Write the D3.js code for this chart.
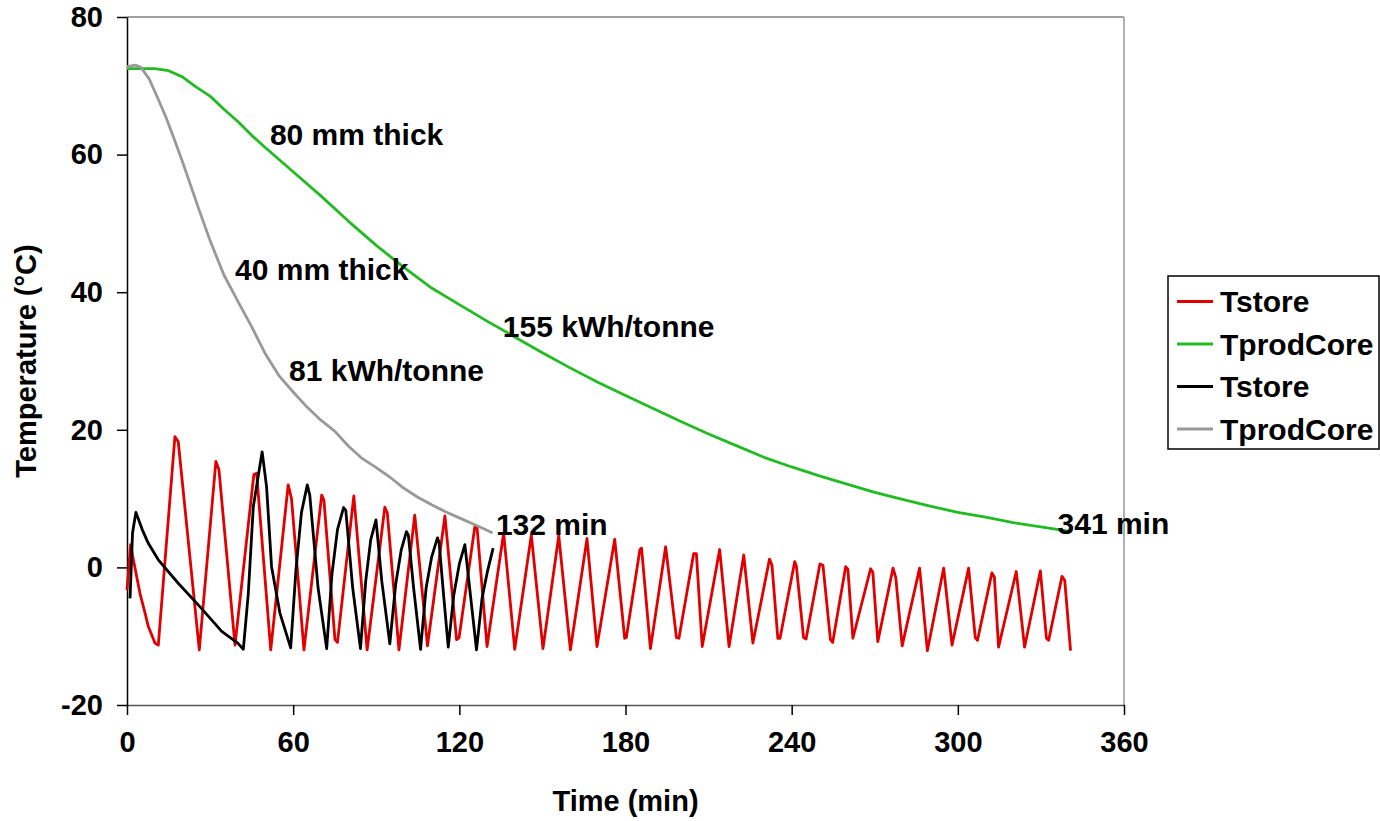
<!DOCTYPE html>
<html>
<head>
<meta charset="utf-8">
<script src="https://cdn.jsdelivr.net/npm/d3@7"></script>
<style>
  body { margin: 0; background: #fff; }
  svg text { font-family: "Liberation Sans", Arial, sans-serif; font-weight: bold; }
</style>
</head>
<body>
<svg width="1380" height="821"></svg>
<script>
// ---- data: [time (min), temperature (°C)] ----
const tstore80 = [
  [0,-3.3],[1.3,3.3],[2.3,1.1],[4.7,-3.8],[6.5,-6.6],[7.7,-8.6],[10.1,-11],[11.3,-11.3],
  [17.3,19.0],[18.5,18.3],[26.1,-12.0],
  [32.1,15.4],[33.2,14.2],[39,-11.3],
  [45.8,13.5],[46.8,13.7],[51.9,-12.0],
  [58.2,12.0],[59.4,10.0],[63.9,-12.0],
  [70.3,10.5],[71.1,9.8],[75.1,-10.5],[76.0,-10.9],
  [81.9,10.4],[86.7,-12.0],
  [93.1,8.75],[94.0,7.9],[98.2,-12.0],
  [103.9,7.6],[108.5,-11.4],
  [114.8,7.5],[119,-10.5],[119.9,-10.2],
  [125.6,5.9],[126.4,5.8],[130,-11.5],
  [136,5.0],[140,-11.9],
  [146,4.7],[150.2,-11.8],
  [155.9,4.6],[160.1,-12.0],
  [166.1,4.2],[169.7,-11.5],
  [176.1,4.1],[179.7,-10.3],[180.3,-10.2],
  [185.2,2.6],[185.8,2.8],[189,-11.8],
  [194.5,3.0],[198.4,-10.2],[199.3,-10.3],
  [204.6,2.0],[205.6,2.0],[207.7,-11.5],
  [214,2.6],[217.4,-11.5],
  [222.7,1.8],[226.0,-11.0],
  [232.0,1.2],[232.9,0.3],[235,-10.3],[235.8,-10.3],
  [241.1,0.85],[241.7,0.2],[244.3,-10.2],[245.2,-10.4],
  [250.2,0.5],[251.3,0.3],[254,-10.5],[254.8,-10.9],
  [259.5,0.1],[260.3,-0.3],[262.1,-10.3],
  [268.5,-0.2],[269.3,-0.7],[271.1,-10.8],
  [276.6,-0.1],[277.6,-1.5],[279.9,-11.4],
  [286.2,-0.1],[289,-12.1],
  [294.9,-0.1],[297.9,-11.3],
  [303.9,-0.1],[306.3,-10.2],[307.1,-10.6],
  [312.3,-0.8],[313.2,-1.4],[314.7,-11.6],
  [321.1,-0.6],[324.1,-11.6],
  [329.8,-0.5],[332.0,-10.3],[332.8,-10.6],
  [337.6,-1.3],[338.6,-1.9],[340.7,-12.1]
];

const core80 = [
  [0,72.5],[10,72.5],[15,72.2],[20,71.3],[25,69.8],[30,68.5],[35,66.6],[40,64.8],[45,62.8],
  [50,61],[60,57.5],[70,54],[80,50.3],[90,46.8],[100,43.6],[110,40.6],[120,38.2],[130,35.8],
  [140,33.5],[150,31.2],[160,29],[170,26.9],[180,25],[190,23.1],[200,21.2],[210,19.4],
  [220,17.7],[230,16],[240,14.6],[250,13.3],[260,12.1],[270,10.9],[280,9.9],[290,8.9],
  [300,8.0],[310,7.3],[320,6.5],[330,5.9],[341,5.2]
];

const tstore40 = [
  [1.1,-4.5],[2.0,5.0],[3.2,8.0],[5.5,5.5],[7.7,3.5],[11.3,1.1],[18.5,-2.3],[26.3,-5.7],
  [34.2,-9.3],[40,-11.0],[42,-11.9],
  [43.8,-3.8],[45.6,8.8],[48.8,16.8],[50.4,11.7],[52.2,0.1],[55.2,-6.6],[59.1,-11.7],
  [61,-0.4],[63,8],[65.1,12.0],[66,10.5],[69,-3],[72.1,-11.8],
  [74,-1],[76,5.5],[78.2,8.7],[79,8.3],[81.5,-3],[84.3,-11.8],
  [86.2,-2],[88,4],[89.9,6.9],[92,-2],[94.9,-11.1],
  [97,-2.5],[99,2.5],[100.9,5.2],[101.6,4.7],[103.5,-3],[106,-11.9],
  [108,-3],[110,1.5],[112.1,4.3],[112.7,3.6],[114.2,-3.5],[116,-11.6],
  [118,-4],[120,0.5],[122,3.3],[124,-4],[126.2,-12.0],
  [128.2,-4.5],[130.2,-0.5],[132.2,2.8]
];

const core40 = [
  [0,72.8],[3,73.0],[5,72.7],[8,71],[11,68.3],[14,65.5],[17,62.3],[20,59],[23,55.5],
  [26,52],[30,47.5],[35,42.5],[40,38.7],[45,35],[50,31],[55,27.8],[60,25.5],[65,23.3],
  [70,21.4],[75,19.8],[80,17.6],[85,15.8],[90,14.5],[95,13.1],[100,11.5],[105,10.2],
  [110,9.1],[115,8.1],[120,7.2],[125,6.3],[130,5.4],[132,5.0]
];

const seriesNames = ["Tstore", "TprodCore", "Tstore", "TprodCore"];
const seriesColors = ["#e00000", "#22bb22", "#000000", "#999999"];
const seriesData = [tstore80, core80, tstore40, core40];

const xTicks = [0, 60, 120, 180, 240, 300, 360];
const yTicks = [-20, 0, 20, 40, 60, 80];

// text notes placed in data coordinates (left edge, baseline)
const notes = [
  { text: "80 mm thick", t: 51.6, v: 61.4 },
  { text: "40 mm thick", t: 39.0, v: 41.8 },
  { text: "155 kWh/tonne", t: 135.7, v: 33.5 },
  { text: "81 kWh/tonne", t: 58.5, v: 27.1 },
  { text: "132 min", t: 133.2, v: 4.7 },
  { text: "341 min", t: 336, v: 4.9 }
];

// ---- chart ----
const svg = d3.select('svg');
const plotLeft = 127, plotRight = 1124, plotTop = 17, plotBottom = 705;

const x = d3.scaleLinear().domain([0, 360]).range([plotLeft, plotRight]);
const y = d3.scaleLinear().domain([-20, 80]).range([plotBottom, plotTop]);

// frame: grey top & right, dark axes
svg.append('line').attr('x1', plotLeft).attr('x2', plotRight).attr('y1', plotTop).attr('y2', plotTop)
  .attr('stroke', '#a0a0a0').attr('stroke-width', 2);
svg.append('line').attr('x1', plotRight).attr('x2', plotRight).attr('y1', plotTop).attr('y2', plotBottom)
  .attr('stroke', '#b0b0b0').attr('stroke-width', 2);

const plain = d => String(d);   // keep the plain hyphen in "-20"
const xAxis = svg.append('g').attr('transform', `translate(0,${plotBottom})`)
  .call(d3.axisBottom(x).tickValues(xTicks).tickFormat(plain).tickSize(10).tickPadding(16).tickSizeOuter(0));
const yAxis = svg.append('g').attr('transform', `translate(${plotLeft},0)`)
  .call(d3.axisLeft(y).tickValues(yTicks).tickFormat(plain).tickSize(10).tickPadding(14).tickSizeOuter(0));

xAxis.select('.domain').attr('stroke', '#555').attr('stroke-width', 1.5);
yAxis.select('.domain').attr('stroke', '#000').attr('stroke-width', 1.5);
[xAxis, yAxis].forEach(a => {
  a.selectAll('.tick line').attr('stroke', '#000').attr('stroke-width', 1.5);
  a.selectAll('.tick text').attr('fill', '#000').style('font-size', '29px');
});

const line = d3.line().x(d => x(d[0])).y(d => y(d[1]));

seriesData.forEach((data, i) => {
  svg.append('path')
    .datum(data)
    .attr('d', line)
    .attr('fill', 'none')
    .attr('stroke', seriesColors[i])
    .attr('stroke-width', 2.8)
    .attr('stroke-linejoin', 'round');
});

svg.selectAll('text.note')
  .data(notes)
  .enter()
  .append('text')
  .attr('class', 'note')
  .attr('x', d => x(d.t))
  .attr('y', d => y(d.v))
  .style('font-size', '30px')
  .text(d => d.text);

// axis titles
svg.append('text')
  .attr('x', (plotLeft + plotRight) / 2).attr('y', 811)
  .attr('text-anchor', 'middle').style('font-size', '29px')
  .text('Time (min)');
svg.append('text')
  .attr('transform', `translate(36,${(plotTop + plotBottom) / 2}) rotate(-90)`)
  .attr('text-anchor', 'middle').style('font-size', '29px')
  .text('Temperature (°C)');

// legend
const legend = svg.append('g');
legend.append('rect')
  .attr('x', 1168).attr('y', 276).attr('width', 211).attr('height', 173)
  .attr('fill', '#fff').attr('stroke', '#000').attr('stroke-width', 1.5);

seriesNames.forEach((name, i) => {
  const cy = 301.5 + i * 42.5;
  legend.append('line')
    .attr('x1', 1177).attr('x2', 1213).attr('y1', cy).attr('y2', cy)
    .attr('stroke', seriesColors[i]).attr('stroke-width', 2.8);
  legend.append('text')
    .attr('x', 1220).attr('y', cy + 10.5)
    .style('font-size', '30px')
    .text(name);
});
</script>
</body>
</html>
